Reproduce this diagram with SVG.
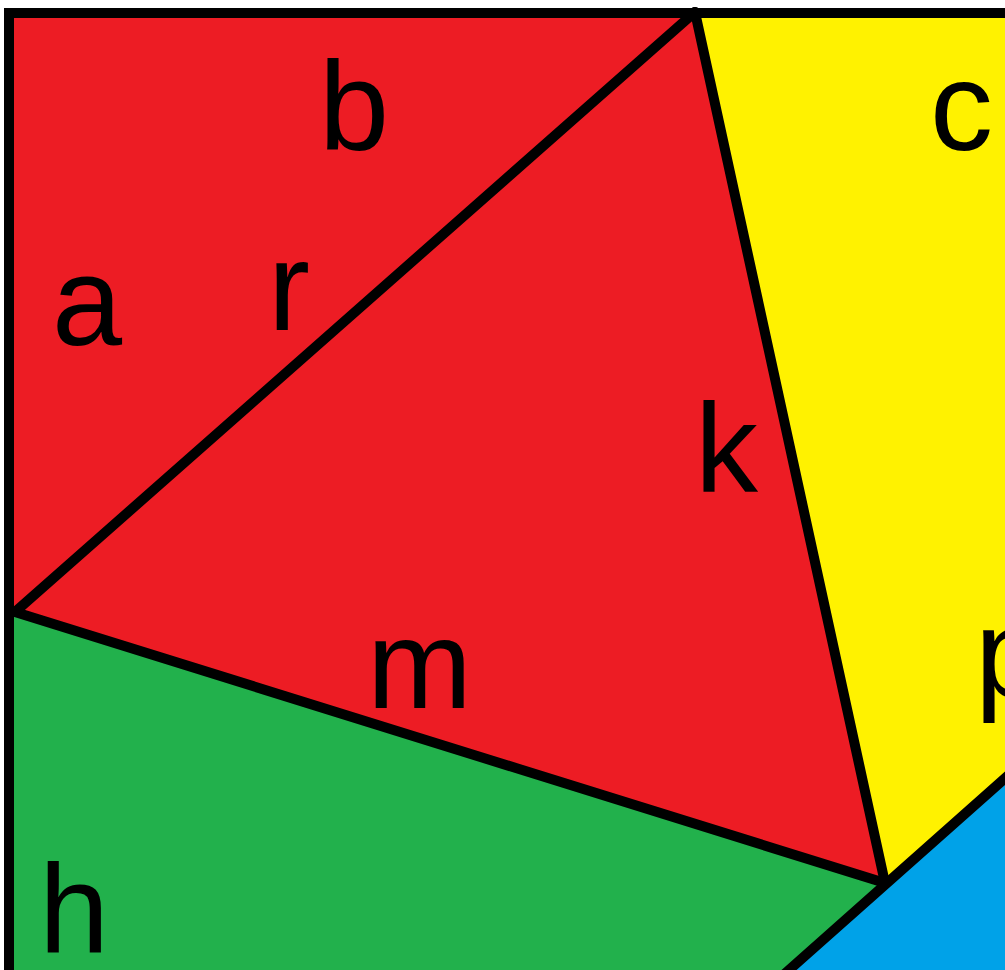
<svg xmlns="http://www.w3.org/2000/svg" width="1005" height="970" viewBox="0 0 1005 970">
<style>
.edge{stroke:#000;stroke-width:10;stroke-linecap:round;fill:none}
.lbl{font-family:"Liberation Sans",Arial,sans-serif;font-size:126px;fill:#000}
</style>
<rect x="0" y="0" width="1005" height="970" fill="#fff"/>
<g id="regions">
<polygon id="red" points="9,13 695,13 885,883 9,612" fill="#ED1C24"/>
<polygon id="yellow" points="695,13 1005,13 1005,778 885,883" fill="#FFF200"/>
<polygon id="green" points="9,612 885,883 790,970 9,970" fill="#22B14C"/>
<polygon id="blue" points="885,883 1005,778 1005,970 790,970" fill="#00A2E8"/>
</g>
<g id="connectors">
<line class="edge" x1="4" y1="13" x2="1010" y2="13" style="stroke-linecap:butt"/>
<line class="edge" x1="9" y1="8" x2="9" y2="975" style="stroke-linecap:butt"/>
<line class="edge" x1="15" y1="612" x2="695" y2="12"/>
<line class="edge" x1="695" y1="12" x2="885" y2="883"/>
<line class="edge" x1="15" y1="612" x2="885" y2="883"/>
<line class="edge" x1="780" y1="978" x2="1012" y2="772"/>
</g>
<g id="labels">
<text class="lbl" x="319" y="150">b</text>
<text class="lbl" x="930" y="150">c</text>
<text class="lbl" x="52" y="345">a</text>
<text class="lbl" x="268" y="330">r</text>
<text class="lbl" x="695" y="492">k</text>
<text class="lbl" x="367" y="708">m</text>
<text class="lbl" x="975" y="697">p</text>
<text class="lbl" x="39" y="953">h</text>
</g>
</svg>
